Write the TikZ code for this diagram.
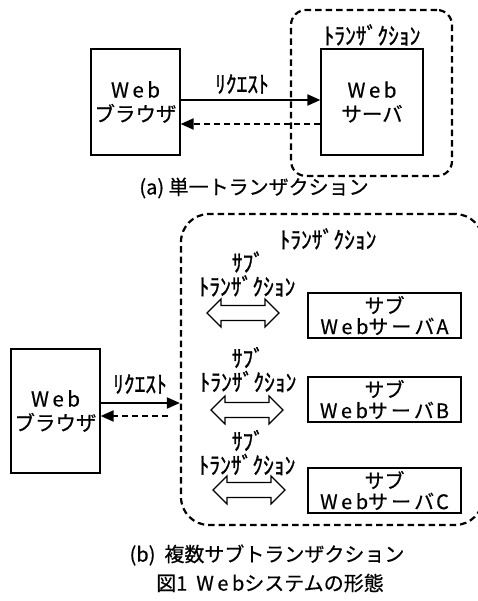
\documentclass[tikz,border=0pt]{standalone}
\usepackage{fontspec}
\setmainfont{Noto Sans CJK JP}[FakeBold=0.5]
\newfontfamily\hwfont{Noto Sans CJK JP}[FakeBold=1.1]
\usetikzlibrary{arrows.meta}
% letter-spaced "Web"
\newcommand\sWeb{W\kern3.5pt e\kern3.5pt b}
% condensed half-width label text
\newcommand\hwtext[1]{\scalebox{1}[1.1]{\hwfont #1}}
\begin{document}
\begin{tikzpicture}[x=1pt,y=-1pt,
  box/.style={draw, line width=1.2pt, inner sep=0pt, align=center,
    font=\fontsize{20.5}{24}\selectfont},
  subbox/.style={draw, line width=1.2pt, inner sep=0pt, align=center,
    minimum width=153pt, minimum height=45pt,
    font=\fontsize{20}{21}\selectfont},
  lbl/.style={inner sep=0pt, font=\fontsize{21.5}{21.5}\selectfont},
  captxt/.style={inner sep=0pt, font=\fontsize{20}{20}\selectfont},
  txbox/.style={draw, line width=2.2pt, dash pattern=on 6.5pt off 4pt,
    inner sep=0pt},
  req/.style={line width=2pt, -{Triangle[length=13pt,width=11pt]}},
  resp/.style={line width=2pt, dash pattern=on 6pt off 4pt,
    -{Triangle[length=13pt,width=11pt]}},
  subarrow/.pic={
    \draw[line width=1.2pt, fill=white]
      (-36,0) -- (-22,-14) -- (-22,-7.5) -- (22,-7.5) -- (22,-14) -- (36,0)
      -- (22,14) -- (22,7.5) -- (-22,7.5) -- (-22,14) -- cycle;}
]
\useasboundingbox (0,0) rectangle (477,601);

% ---------- (a) single transaction ----------
\node[txbox, rounded corners=15pt, minimum width=161pt, minimum height=166pt]
  (tx1) at (371.5,93) {};
\node[lbl] (tx1lbl) at (372,35) {\hwtext{ﾄﾗﾝｻﾞｸｼｮﾝ}};
\node[box, minimum width=89pt, minimum height=106pt] (br1) at (135.5,102)
  {\sWeb\\ブラウザ};
\node[box, minimum width=102pt, minimum height=106pt] (sv1) at (372,102)
  {\sWeb\\サーバ};
\draw[req] ([yshift=2pt]br1.east) -- ([yshift=2pt]sv1.west);
\draw[resp] ([yshift=-22pt]sv1.west) -- ([yshift=-22pt]br1.east);
\node[lbl] (req1) at (242,84) {\hwtext{ﾘｸｴｽﾄ}};
\node[captxt] (capa) at (254,188) {(a) 単一トランザクション};

% ---------- (b) multiple sub-transactions ----------
\node[txbox, rounded corners=28pt, minimum width=302pt, minimum height=311pt]
  (tx2) at (332,369.5) {};
\node[lbl] (tx2lbl) at (328,239) {\hwtext{ﾄﾗﾝｻﾞｸｼｮﾝ}};
\node[box, minimum width=89pt, minimum height=124pt] (br2) at (55.5,411)
  {\sWeb\\ブラウザ};
\draw[req] ([yshift=8pt]br2.east) -- ([yshift=8pt]br2.east -| tx2.west);
\draw[resp] ([xshift=-12pt,yshift=-5pt]br2.east -| tx2.west)
  -- ([yshift=-5pt]br2.east);
\node[lbl] (req2) at (140,384) {\hwtext{ﾘｸｴｽﾄ}};

\node[subbox] (sa) at (384.5,315.5) {サブ\\\sWeb サ\kern3pt ー\kern3pt バ\kern2pt A};
\node[subbox] (sb) at (384.5,399.5) {サブ\\\sWeb サ\kern3pt ー\kern3pt バ\kern2pt B};
\node[subbox] (sc) at (384.5,490.5) {サブ\\\sWeb サ\kern3pt ー\kern3pt バ\kern2pt C};

\node[lbl] (saA) at (248,262) {\hwtext{ｻﾌﾞ}};
\node[lbl] (stA) at (247,286) {\hwtext{ﾄﾗﾝｻﾞｸｼｮﾝ}};
\node[lbl] (saB) at (248,357.5) {\hwtext{ｻﾌﾞ}};
\node[lbl] (stB) at (248,381.5) {\hwtext{ﾄﾗﾝｻﾞｸｼｮﾝ}};
\node[lbl] (saC) at (248,440.5) {\hwtext{ｻﾌﾞ}};
\node[lbl] (stC) at (247,464.5) {\hwtext{ﾄﾗﾝｻﾞｸｼｮﾝ}};

\pic at (243,313) {subarrow};
\pic at (247,410) {subarrow};
\pic at (249,490) {subarrow};

\node[captxt] (capb) at (267,555) {(b)\ \ 複数サブトランザクション};
\node[captxt] (fig) at (270,583) {図1\ \ \sWeb システムの形態};
\end{tikzpicture}
\end{document}
